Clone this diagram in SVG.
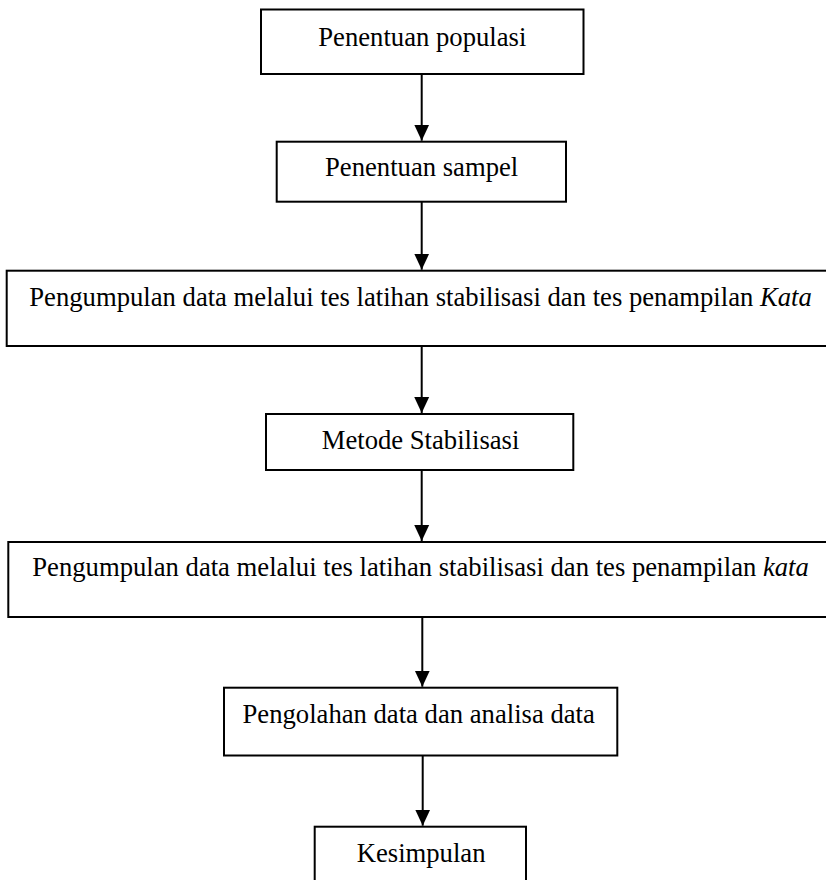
<svg xmlns="http://www.w3.org/2000/svg" width="826" height="880" viewBox="0 0 826 880">
<style>
.box{fill:#fff;stroke:#000;stroke-width:2}
.lbl{font-family:"Liberation Serif","Times New Roman",serif;font-size:26.67px;fill:#000}
.con{stroke:#000;stroke-width:2;fill:none}
</style>
<defs>
<marker id="ah" markerUnits="userSpaceOnUse" markerWidth="16" markerHeight="16" refX="15" refY="7" orient="auto" viewBox="0 0 15 14">
<path d="M0,0 L15,7 L0,14 Z" fill="#000"/>
</marker>
</defs>
<rect width="826" height="880" fill="#fff"/>
<g id="n1"><rect class="box" x="261" y="9.5" width="322.5" height="64.5"/><text class="lbl" x="318.3" y="45.7">Penentuan populasi</text></g>
<g id="n2"><rect class="box" x="276.7" y="141.7" width="289.3" height="60"/><text class="lbl" x="325" y="175.5">Penentuan sampel</text></g>
<g id="n3"><rect class="box" x="6.7" y="270.7" width="830" height="75.3"/><text class="lbl" x="29.3" y="305.7">Pengumpulan data melalui tes latihan stabilisasi dan tes penampilan <tspan font-style="italic">Kata</tspan></text></g>
<g id="n4"><rect class="box" x="266" y="414" width="307.3" height="56"/><text class="lbl" x="321.7" y="449">Metode Stabilisasi</text></g>
<g id="n5"><rect class="box" x="8.3" y="542" width="830" height="75"/><text class="lbl" x="32.3" y="576">Pengumpulan data melalui tes latihan stabilisasi dan tes penampilan <tspan font-style="italic">kata</tspan></text></g>
<g id="n6"><rect class="box" x="224" y="687.7" width="393.3" height="67.8"/><text class="lbl" x="242.5" y="723">Pengolahan data dan analisa data</text></g>
<g id="n7"><rect class="box" x="314.7" y="826.7" width="211.3" height="70"/><text class="lbl" x="356.7" y="861.7">Kesimpulan</text></g>
<g id="connectors">
<path class="con" d="M421.7,74 V140.7" marker-end="url(#ah)"/>
<path class="con" d="M421.7,201.7 V269.7" marker-end="url(#ah)"/>
<path class="con" d="M421.7,346 V413" marker-end="url(#ah)"/>
<path class="con" d="M421.7,470 V541" marker-end="url(#ah)"/>
<path class="con" d="M422.3,617 V686.7" marker-end="url(#ah)"/>
<path class="con" d="M422.7,755.5 V825.7" marker-end="url(#ah)"/>
</g>
</svg>
